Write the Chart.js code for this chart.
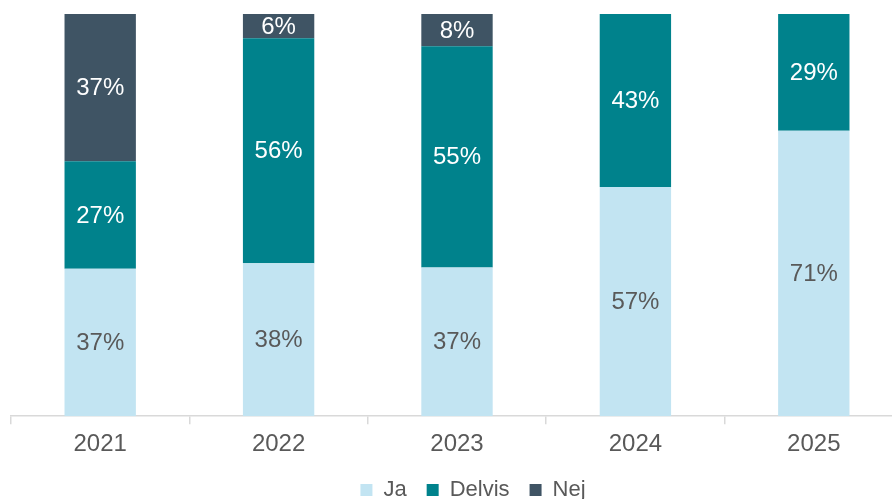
<!DOCTYPE html>
<html>
<head>
<meta charset="utf-8">
<script src="https://cdn.jsdelivr.net/npm/chart.js@4/dist/chart.umd.min.js"></script>
<style>
html,body{margin:0;padding:0;background:#fff;overflow:hidden;}
#wrap{position:relative;width:935px;height:499px;}
</style>
</head>
<body>
<div id="wrap"><canvas id="c"></canvas></div>
<script>
const categories = ['2021', '2022', '2023', '2024', '2025'];
const seriesNames = ['Ja', 'Delvis', 'Nej'];
const ja = [37, 38, 37, 57, 71];
const delvis = [27, 56, 55, 43, 29];
const nej = [37, 6, 8, 0, 0];
const colors = ['#C2E4F2', '#00828C', '#3F5464'];
const labelColors = ['#595959', '#FFFFFF', '#FFFFFF'];

const raw = [ja, delvis, nej];
const totals = categories.map((_, i) => raw.reduce((s, arr) => s + arr[i], 0));
const pct = raw.map(arr => arr.map((v, i) => v / totals[i] * 100));

const FONT = '"Liberation Sans", Arial, sans-serif';

const valueLabels = {
  id: 'valueLabels',
  afterDatasetsDraw(chart) {
    const ctx = chart.ctx;
    ctx.save();
    ctx.font = '24px ' + FONT;
    ctx.textAlign = 'center';
    ctx.textBaseline = 'middle';
    chart.data.datasets.forEach((ds, di) => {
      const meta = chart.getDatasetMeta(di);
      meta.data.forEach((el, i) => {
        const v = raw[di][i];
        if (!v) return;
        ctx.fillStyle = labelColors[di];
        ctx.fillText(v + '%', el.x, (el.y + el.base) / 2 + 1);
      });
    });
    ctx.restore();
  }
};

new Chart(document.getElementById('c'), {
  type: 'bar',
  data: {
    labels: categories,
    datasets: seriesNames.map((name, di) => ({
      label: name,
      data: pct[di],
      backgroundColor: colors[di],
      borderWidth: 0,
      barPercentage: 0.4,
      categoryPercentage: 1
    }))
  },
  options: {
    responsive: true,
    maintainAspectRatio: false,
    animation: false,
    layout: { padding: { top: 14, left: 11, right: 0, bottom: -12 } },
    plugins: {
      legend: {
        position: 'bottom',
        labels: {
          boxWidth: 12,
          boxHeight: 12,
          padding: 20,
          color: '#595959',
          font: { family: FONT, size: 22 }
        }
      },
      tooltip: { enabled: false }
    },
    scales: {
      x: {
        stacked: true,
        grid: {
          display: true,
          drawOnChartArea: false,
          drawTicks: true,
          tickLength: 8,
          color: '#D9D9D9',
          lineWidth: 1.5
        },
        border: { display: true, color: '#D9D9D9', width: 1.5 },
        ticks: {
          color: '#595959',
          padding: 6,
          font: { family: FONT, size: 24 }
        },
        afterFit(scale) { scale.height -= 6; }
      },
      y: {
        stacked: true,
        position: 'right',
        min: 0,
        max: 100,
        display: true,
        grid: { display: false },
        border: { display: false },
        ticks: { display: false },
        afterFit(scale) { scale.width = 32; }
      }
    }
  },
  plugins: [valueLabels]
});
</script>
</body>
</html>
